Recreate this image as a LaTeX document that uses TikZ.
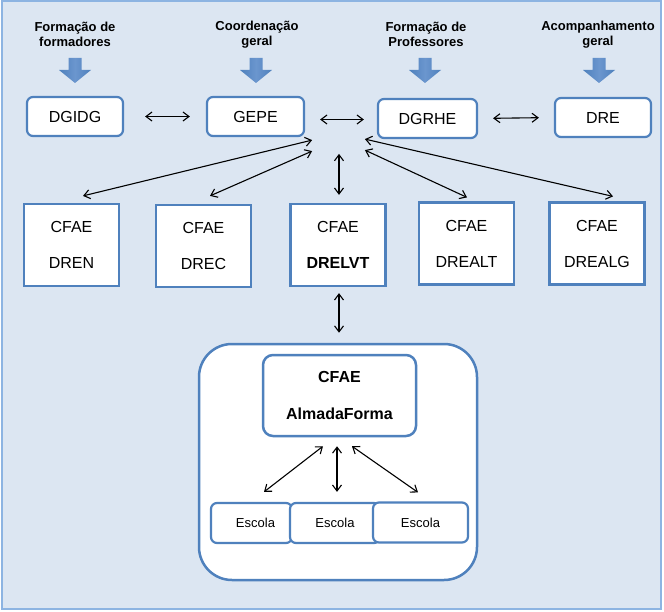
\documentclass[tikz,border=0pt]{standalone}
\usepackage{fontspec}
\setmainfont{Liberation Sans}
\usetikzlibrary{arrows.meta}

\definecolor{bgblue}{HTML}{DCE6F2}
\definecolor{frameblue}{HTML}{8DB4E2}
\definecolor{boxblue}{HTML}{4F81BD}
\definecolor{midblue}{HTML}{6B96CE}

\tikzset{
	toplabel/.style={align=center, font=\fontsize{13}{15}\selectfont\bfseries},
	topbox/.style={draw=boxblue, line width=2.2pt, fill=white, rounded corners=6pt, font=\fontsize{16}{19}\selectfont},
	cfaebox/.style={draw=boxblue, line width=2.2pt, fill=white, align=center, font=\fontsize{16}{36}\selectfont, minimum width=95pt, minimum height=82pt},
	escolabox/.style={draw=boxblue, line width=2.2pt, fill=white, rounded corners=6pt, font=\fontsize{13}{15}\selectfont, minimum height=40pt},
	bigarrow/.pic={
		\shade[left color=boxblue, right color=boxblue, middle color=midblue]
			(-6.5,-12.5) -- (6.5,-12.5) -- (6.5,-0.5) -- (16,-0.5) -- (0,12.5) -- (-16,-0.5) -- (-6.5,-0.5) -- cycle;
	},
	link/.style={<->, line width=1.1pt, >={Straight Barb[length=6pt,width=9pt]}}
}

\begin{document}
\begin{tikzpicture}[x=1pt, y=-1pt]
		\useasboundingbox (0,0) rectangle (664,612);
		\fill[white] (0,0) rectangle (664,612);
		\draw[fill=bgblue, draw=frameblue, line width=2pt] (1.5,1.5) rectangle (660.5,608.5);

		% what each top unit does
		\node[toplabel] (L_form) at (75, 34.5) {Formação de\\formadores};
		\node[toplabel] (L_coord) at (257, 34.5) {Coordenação\\geral};
		\node[toplabel] (L_prof) at (426, 34.5) {Formação de\\Professores};
		\node[toplabel] (L_acomp) at (598, 34.5) {Acompanhamento\\geral};
		\pic (A_form) at (75, 70.5) {bigarrow};
		\pic (A_coord) at (256, 70.5) {bigarrow};
		\pic (A_prof) at (425, 70.5) {bigarrow};
		\pic (A_acomp) at (599, 70.5) {bigarrow};

		\node[topbox, minimum width=96pt, minimum height=39pt] (DGIDG) at (75, 116.5) {DGIDG};
		\node[topbox, minimum width=97pt, minimum height=39pt] (GEPE) at (255.5, 116.5) {GEPE};
		\node[topbox, minimum width=99pt, minimum height=39pt] (DGRHE) at (427.5, 118.5) {DGRHE};
		\node[topbox, minimum width=96pt, minimum height=39pt] (DRE) at (603, 117.5) {DRE};

		% regional centres
		\node[cfaebox] (C_DREN) at (71.5, 245) {CFAE\\DREN};
		\node[cfaebox] (C_DREC) at (203.5, 246) {CFAE\\DREC};
		\node[cfaebox] (C_DRELVT) at (338, 245) {CFAE\\\textbf{DRELVT}};
		\node[cfaebox] (C_DREALT) at (466.5, 243.5) {CFAE\\DREALT};
		\node[cfaebox] (C_DREALG) at (597, 243.5) {CFAE\\DREALG};

		% local association
		\node[draw=boxblue, line width=2.5pt, fill=white, rounded corners=33pt, minimum width=278pt, minimum height=236pt] (Assoc) at (338, 462) {};
		\node[draw=boxblue, line width=2.5pt, fill=white, rounded corners=10pt, align=center, font=\fontsize{16}{37}\selectfont\bfseries, minimum width=153pt, minimum height=81pt] (Almada) at (339.5, 395.5) {CFAE\\AlmadaForma};
		\node[escolabox, minimum width=81pt] (Esc_1) at (251.5, 523) {\hspace{8pt}Escola};
		\node[escolabox, minimum width=90pt] (Esc_2) at (335, 523) {Escola};
		\node[escolabox, minimum width=95pt] (Esc_3) at (420.5, 522.5) {Escola};

		\draw[link, shorten <=21pt, shorten >=16pt] (DGIDG.east) -- (GEPE.west);
		\draw[link] ([shift={(15,3)}]GEPE.east) -- ([shift={(-13,1)}]DGRHE.west);
		\draw[link, shorten <=15pt, shorten >=15pt] (DGRHE.east) -- (DRE.west);

		\draw[link] ([shift={(7,3)}]GEPE.south east) -- ([shift={(11.5,-7)}]C_DREN.north);
		\draw[link] ([shift={(7,14)}]GEPE.south east) -- ([shift={(6.5,-8)}]C_DREC.north);
		\draw[link] ([shift={(1,-49)}]C_DRELVT.north) -- ([shift={(1,-8)}]C_DRELVT.north);
		\draw[link] ([shift={(-12,11)}]DGRHE.south west) -- ([shift={(0.5,-4)}]C_DREALT.north);
		\draw[link] ([shift={(-12,0)}]DGRHE.south west) -- ([shift={(16,-5)}]C_DREALG.north);

		\draw[link] ([shift={(1,6)}]C_DRELVT.south) -- ([shift={(1,-10)}]Assoc.north);

		\draw[link] ([shift={(-16.5,9)}]Almada.south) -- ([shift={(12.5,-10)}]Esc_1.north);
		\draw[link] ([shift={(-2.5,9)}]Almada.south) -- ([shift={(2,-10)}]Esc_2.north);
		\draw[link] ([shift={(12.5,9)}]Almada.south) -- ([shift={(-2.5,-9)}]Esc_3.north);
	\end{tikzpicture}
\end{document}
